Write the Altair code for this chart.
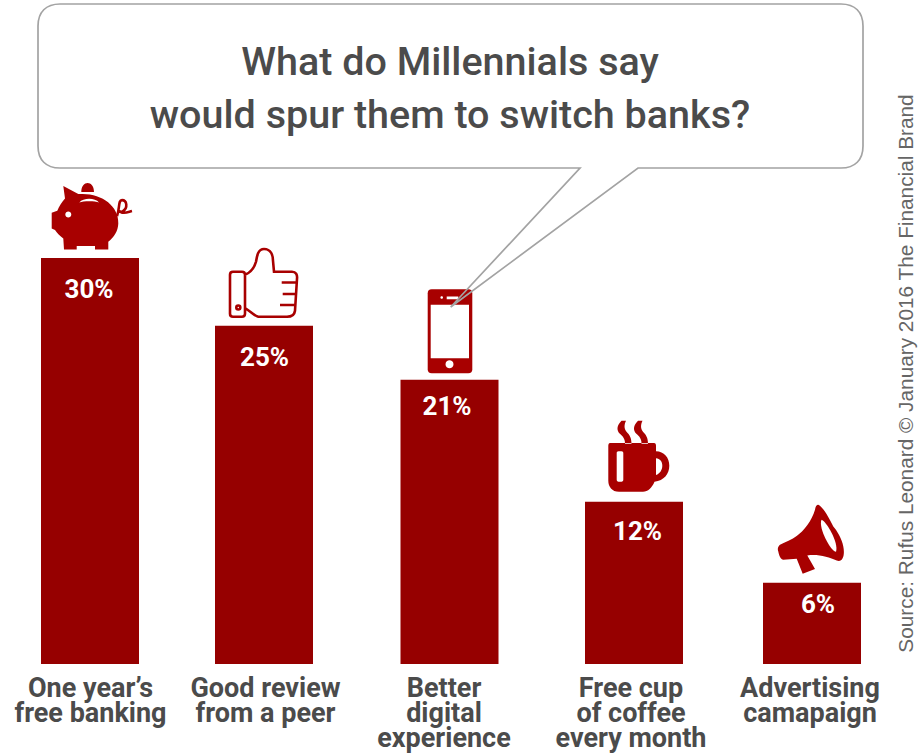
import altair as alt
import pandas as pd

# Survey results
categories = ["One year's", "Good review", "Better", "Free cup", "Advertising"]
label_lines = [
    "One year’s\nfree banking",
    "Good review\nfrom a peer",
    "Better\ndigital\nexperience",
    "Free cup\nof coffee\nevery month",
    "Advertising\ncamapaign",
]
shares = [30, 25, 21, 12, 6]

# Horizontal layout of the columns, their captions and their value tags
bar_centres = [90, 264, 449.5, 634, 812]
label_centres = [90.5, 265.5, 444, 631, 810]
tag_centres = [89, 264.5, 447, 637.5, 818]
# How far each value tag sits below the top of its column, in pixels
tag_drops = [32, 32, 27, 30, 22]

WIDTH, HEIGHT = 920, 753
BASELINE_PX = 664
PX_PER_POINT = 13.53

RED_BAR = "#960000"
RED_ICON = "#a80000"
INK = "#4b4b4b"
OUTLINE = "#a3a3a3"

# Icon glyphs: paths in pixels, measured from the top centre of their column
PIG = (
    "M -26.7 -72 L -11.7 -64 C 10 -66 29 -53 28.3 -34.7 C 28 -27 24 -21 18.3 -16.3 "
    "L 18.3 -8.7 L 5 -8.7 L 5 -12 L -13.3 -12 L -13.3 -8.7 L -26 -8.7 L -26.7 -19.7 "
    "C -30 -22 -33 -25 -35 -28 L -38.3 -29.7 L -38.3 -45.3 L -32.7 -47.3 C -31 -52 -28 -56 -25 -59.7 Z "
    "M -8.7 -66 C -8.7 -78 4 -78 4 -66 Z"
)
PIG_CUT = (
    "M -24.7 -43.7 C -24.7 -47.7 -18.7 -47.7 -18.7 -43.7 C -18.7 -39.7 -24.7 -39.7 -24.7 -43.7 Z "
    "M -10.7 -55.7 C -6.7 -60.7 5 -60.7 9 -55.7 C 5 -57.3 -6.7 -57.3 -10.7 -55.7 Z"
)
PIG_TAIL = (
    "M 27 -42 C 30 -50 28 -58 32 -58 C 37 -58 38 -50 33 -47 "
    "C 30 -45 28 -48 31 -46 C 34 -44 38 -46 42 -47"
)
THUMB = (
    "M -31 -54 L -22 -54 C -20 -54 -19 -53 -19 -51 L -19 -12 C -19 -10 -20 -9 -22 -9 "
    "L -31 -9 C -33 -9 -34 -10 -34 -12 L -34 -51 C -34 -53 -33 -54 -31 -54 Z "
    "M -19 -51 C -14 -53 -10 -57 -8 -64 C -7 -70 -6 -76.7 0 -76.7 C 7 -76.7 9 -70 9 -65 "
    "L 10 -54 L 28 -54 C 32 -54 33.5 -51 33 -47 L 31 -15 C 30.5 -11 27 -9 23 -9 "
    "L -5.7 -9 C -10 -10 -14 -15 -19 -17.7 "
    "M 17.7 -43.3 L 32 -43.3 M 18.7 -31.7 L 32.5 -31.7 M 16 -20.7 L 31 -20.7 "
    "M -27.7 -18.3 C -27.7 -21 -23.7 -21 -23.7 -18.3 C -23.7 -15.6 -27.7 -15.6 -27.7 -18.3 Z"
)
PHONE = (
    "M -17.8 -90.7 L 18.8 -90.7 C 21.5 -90.7 22.8 -89.4 22.8 -86.7 L 22.8 -10.7 "
    "C 22.8 -8 21.5 -6.7 18.8 -6.7 L -17.8 -6.7 C -20.5 -6.7 -21.8 -8 -21.8 -10.7 "
    "L -21.8 -86.7 C -21.8 -89.4 -20.5 -90.7 -17.8 -90.7 Z"
)
PHONE_CUT = (
    "M -18.8 -75 L 19.5 -75 L 19.5 -21.7 L -18.8 -21.7 Z "
    "M -4 -15.7 C -4 -21 4 -21 4 -15.7 C 4 -10.4 -4 -10.4 -4 -15.7 Z "
    "M -2.8 -83.3 L 8.8 -83.3 L 8.8 -80.7 L -2.8 -80.7 Z "
    "M -9.1 -82.3 C -9.1 -84 -6.5 -84 -6.5 -82.3 C -6.5 -80.6 -9.1 -80.6 -9.1 -82.3 Z"
)
CUP = (
    "M -24 -58.7 L 20 -58.7 C 21.5 -58.7 22 -57.5 22 -56 L 22 -50.3 C 30 -50 35.3 -44 35.3 -36 "
    "C 35.3 -28 30 -21 20.5 -20 C 18 -14 14 -10 9 -10 L -15 -10 C -22 -10 -25.7 -15 -25.7 -21 "
    "L -25.7 -56 C -25.7 -57.5 -25 -58.7 -24 -58.7 Z "
    "M -12.5 -81 C -18.5 -75 -17 -70 -13 -67 C -10 -64 -9 -62 -9 -58 L -2.5 -58 "
    "C -2.5 -64 -4.5 -67 -7.5 -70 C -10 -73 -10 -77 -8 -81 Z "
    "M 4 -81 C -2 -75 -0.5 -70 3.5 -67 C 6.5 -64 7.5 -62 7.5 -58 L 14 -58 "
    "C 14 -64 12 -67 9 -70 C 6.5 -73 6.5 -77 8.5 -81 Z"
)
CUP_CUT = (
    "M 22 -43.3 C 26 -43 28.3 -40 28.3 -36 C 28.3 -32 26 -28 22 -26.7 Z "
    "M -15.5 -50.3 L -12.5 -50.3 C -11.3 -50.3 -10.7 -49.5 -10.7 -48.5 L -10.7 -21.8 "
    "C -10.7 -20.8 -11.3 -20 -12.5 -20 L -15.5 -20 C -16.7 -20 -17.3 -20.8 -17.3 -21.8 "
    "L -17.3 -48.5 C -17.3 -49.5 -16.7 -50.3 -15.5 -50.3 Z"
)
HORN = (
    "M 3 -73 C 0 -62 -8.7 -51.3 -15 -47 C -20 -43 -27 -41 -32 -38 "
    "C -34.5 -36 -34.5 -33 -33.7 -31.3 C -33 -27 -31 -23 -28.7 -23 L -15.3 -24 "
    "L -9.3 -9 L 3 -13.7 L -4.7 -27.3 C 5 -29 17 -26 24.7 -22.3 "
    "C 31 -20 33 -28 31.3 -36.3 C 30 -44 25 -52 21.3 -56.3 C 17 -65 11 -76 6.3 -78 C 4.5 -78.5 3.5 -76 3 -73 Z"
)
HORN_CUT = "M 9.5 -63 C 14 -62 27 -40 24 -31 C 19 -31 6 -55 9.5 -63 Z"

filled_icons = [PIG, PHONE, CUP, HORN]
filled_slots = [0, 2, 3, 4]
cut_icons = [PIG_CUT, PHONE_CUT, CUP_CUT, HORN_CUT]
outlined_icons = [PIG_TAIL, THUMB]
outlined_slots = [0, 1]

# Speech bubble with its long pointer, in canvas pixels
BUBBLE = (
    "M 60 4 L 841 4 C 855 4 863 12 863 26 L 863 146 C 863 160 855 168 841 168 "
    "L 638 168 L 450.7 307 L 580 168 L 60 168 C 46 168 38 160 38 146 L 38 26 C 38 12 46 4 60 4 Z"
)

title_text = "What do Millennials say\nwould spur them to switch banks?"
source_text = "Source: Rufus Leonard © January 2016 The Financial Brand"

bars = pd.DataFrame(
    {
        "category": categories,
        "share": shares,
        "centre": bar_centres,
        "caption_x": label_centres,
        "caption": label_lines,
        "tag": [f"{v}%" for v in shares],
        "tag_x": tag_centres,
        "tag_y": [v - d / PX_PER_POINT for v, d in zip(shares, tag_drops)],
    }
)

x_scale = alt.Scale(domain=[0, WIDTH], nice=False, zero=False, padding=0)
y_scale = alt.Scale(
    domain=[(BASELINE_PX - HEIGHT) / PX_PER_POINT, BASELINE_PX / PX_PER_POINT],
    nice=False,
    zero=False,
    padding=0,
)
X = alt.X("centre:Q", scale=x_scale, axis=None)
Y = alt.Y("share:Q", scale=y_scale, axis=None, stack=None)


def glyphs(paths, slots):
    return pd.DataFrame(
        {
            "centre": [bar_centres[i] for i in slots],
            "share": [shares[i] for i in slots],
            "glyph": paths,
        }
    )


def icon_layer(paths, slots, **mark):
    return (
        alt.Chart(glyphs(paths, slots))
        .mark_point(size=4, opacity=1, **mark)
        .encode(x=X, y=Y, shape=alt.Shape("glyph:N", scale=None, legend=None))
    )


columns = alt.Chart(bars).mark_bar(size=98, color=RED_BAR).encode(
    x=X, y=Y, y2=alt.Y2(datum=0)
)

icons_solid = icon_layer(filled_icons, filled_slots, filled=True, fill=RED_ICON, strokeWidth=0)
icons_cut = icon_layer(cut_icons, filled_slots, filled=True, fill="#ffffff", strokeWidth=0)
icons_line = icon_layer(
    outlined_icons, outlined_slots, filled=False, stroke=RED_ICON, strokeWidth=2.6
)

bubble = (
    alt.Chart(pd.DataFrame({"glyph": [BUBBLE]}))
    .mark_point(size=4, opacity=1, filled=False, stroke=OUTLINE, strokeWidth=1.7)
    .encode(
        x=alt.value(0),
        y=alt.value(0),
        shape=alt.Shape("glyph:N", scale=None, legend=None),
    )
)

tags = alt.Chart(bars).mark_text(
    font="Roboto",
    fontWeight="bold",
    fontSize=26,
    color="#ffffff",
    baseline="middle",
).encode(
    x=alt.X("tag_x:Q", scale=x_scale, axis=None),
    y=alt.Y("tag_y:Q", scale=y_scale, axis=None),
    text="tag:N",
)

captions = alt.Chart(bars).mark_text(
    font="Roboto",
    fontWeight="bold",
    fontSize=27,
    color=INK,
    baseline="middle",
    lineBreak="\n",
    lineHeight=25,
    align="center",
).encode(
    x=alt.X("caption_x:Q", scale=x_scale, axis=None),
    y=alt.value(689),
    text="caption:N",
)

title = alt.Chart(pd.DataFrame({"t": [title_text]})).mark_text(
    font="Roboto",
    fontSize=39.5,
    fontWeight=500,
    color=INK,
    baseline="middle",
    lineBreak="\n",
    lineHeight=53,
).encode(x=alt.value(450), y=alt.value(63), text="t:N")

source = alt.Chart(pd.DataFrame({"t": [source_text]})).mark_text(
    font="Liberation Sans",
    fontSize=20.8,
    color="#666666",
    angle=270,
    baseline="middle",
).encode(x=alt.value(907), y=alt.value(373.5), text="t:N")

chart = (
    alt.layer(columns, icons_solid, icons_cut, icons_line, bubble, tags, captions, title, source)
    .resolve_scale(shape="independent")
    .properties(
        width=WIDTH,
        height=HEIGHT,
        padding=0,
        autosize=alt.AutoSizeParams(type="none"),
        background="#ffffff",
    )
    .configure_view(stroke=None)
)

chart.save("out.html", embed_options={"renderer": "svg", "actions": False})
